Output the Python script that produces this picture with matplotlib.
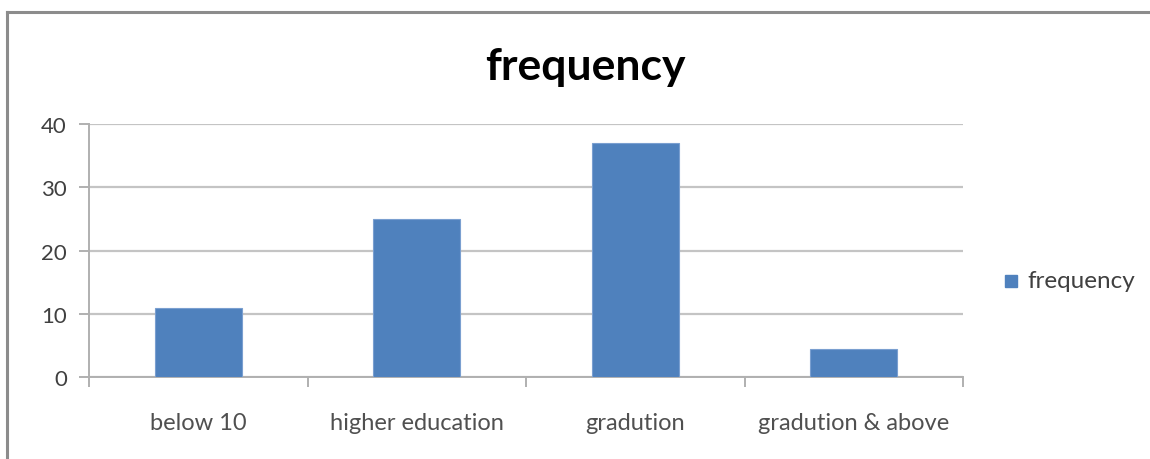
import matplotlib.pyplot as plt
from matplotlib.lines import Line2D
from matplotlib.patches import Rectangle

categories = ['below 10', 'higher education', 'gradution', 'gradution & above']
frequency = [11, 25, 37, 4.5]
yticks = [0, 10, 20, 30, 40]

W, H = 1150, 460
fig = plt.figure(figsize=(W / 100, H / 100), dpi=100)
plt.rcParams['font.family'] = ['Lato', 'DejaVu Sans']

# chart frame: only its top and left edges fall inside the image
frame_x, frame_y = 7 / W, 1 - 13 / H
for xs, ys in [([frame_x, 1.0], [frame_y, frame_y]), ([frame_x, frame_x], [0.0, frame_y])]:
    fig.add_artist(Line2D(xs, ys, transform=fig.transFigure,
                          color='#8c8c8c', linewidth=2.2,
                          solid_capstyle='projecting'))

ax = fig.add_axes([89 / W, (H - 378.3) / H, (963 - 89) / W, (378.3 - 125) / H])
x = range(len(categories))
ax.bar(x, frequency, width=0.4, color='#4f81bd', edgecolor='#7a9fd0',
       linewidth=0.8, zorder=3)

ax.set_xlim(-0.5, len(categories) - 0.5)
ax.set_ylim(0, 40)
ax.set_yticks(yticks)
ax.yaxis.grid(True, color='#c4c4c4', linewidth=1.6, zorder=0)
ax.tick_params(axis='y', length=7, width=1.4, color='#b0b0b0',
               labelsize=16, labelcolor='#404040', pad=9)

# category labels centred under the bars, tick marks on the boundaries
ax.set_xticks([i - 0.5 for i in range(len(categories) + 1)])
ax.set_xticklabels([])
ax.set_xticks(list(x), minor=True)
ax.set_xticklabels(categories, minor=True)
ax.tick_params(axis='x', which='major', length=7, width=1.4, color='#b0b0b0')
ax.tick_params(axis='x', which='minor', length=0, labelsize=17,
               labelcolor='#505050', pad=25)

for side in ['top', 'right']:
    ax.spines[side].set_visible(False)
for side in ['left', 'bottom']:
    ax.spines[side].set_color('#b0b0b0')
    ax.spines[side].set_linewidth(1.4)

fig.text(585 / W, 1 - 67 / H, 'frequency', ha='center', va='center',
         fontsize=32, fontweight='bold', color='black')

fig.patches.append(Rectangle((1005 / W, 1 - 288 / H), 12 / W, 12 / H,
                             transform=fig.transFigure, color='#4f81bd'))
fig.text(1027 / W, 1 - 281 / H, 'frequency', ha='left', va='center',
         fontsize=17.5, color='#404040')

fig.savefig('out.png', dpi=100)
